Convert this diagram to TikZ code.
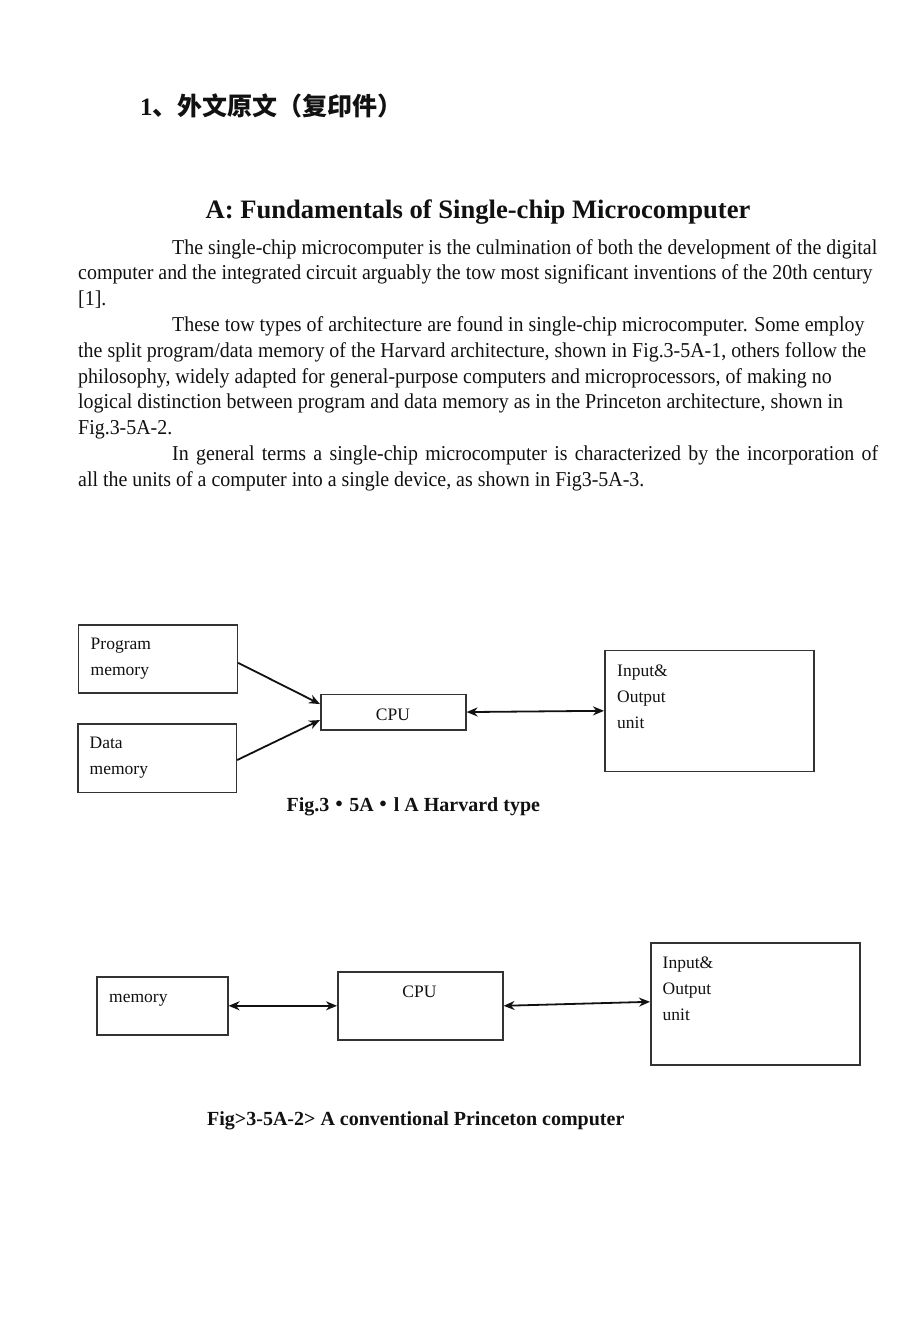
\documentclass[tikz,border=0pt]{standalone}
\usepackage{fontspec}
\setmainfont{Liberation Serif}
\newfontfamily\cjk{Noto Sans CJK SC}
\newfontfamily\narrowserif{Liberation Serif}[FakeStretch=0.94]
\usetikzlibrary{arrows.meta, positioning, calc}
\definecolor{ScanBlack}{HTML}{111111}
\definecolor{ScanGray}{HTML}{333333}
\tikzset{
    % Box styles
    unitbox/.style={
        rectangle,
        draw=ScanGray,
        line width=1.6pt,
        anchor=north west,
        inner sep=0pt
    },
    % multi-line text: placed at the baseline of its last line
    boxtext/.style={
        anchor=base west,
        align=left,
        inner sep=0pt,
        text=ScanBlack,
        font=\fontsize{17.5}{26}\selectfont
    },
    % Page text styles
    bodytext/.style={
        anchor=base west,
        inner sep=0pt,
        text=ScanBlack,
        font=\narrowserif\fontsize{21.2}{26}\selectfont
    },
    headtext/.style={
        anchor=base,
        inner sep=0pt,
        text=ScanBlack,
        font=\bfseries\fontsize{26.6}{30}\selectfont
    },
    captiontext/.style={
        anchor=base west,
        inner sep=0pt,
        text=ScanBlack,
        font=\bfseries\fontsize{20}{26}\selectfont
    },
    % Arrow styles
    onearrow/.style={
        -{Stealth[length=11pt,width=9pt]},
        line width=1.8pt,
        ScanBlack
    },
    twoarrow/.style={
        {Stealth[length=11pt,width=9pt]}-{Stealth[length=11pt,width=9pt]},
        line width=1.8pt,
        ScanBlack
    }
}

\begin{document}
\begin{tikzpicture}[x=1pt,y=-1pt]
    % Page
    \fill[white] (0,0) rectangle (920,1319);

    % Headings
    \node[anchor=base west, inner sep=0pt, text=ScanBlack, font=\bfseries\fontsize{25}{28}\selectfont] (part) at (140,116) {1{\cjk 、外文原文（复印件）}};
    \node[headtext] (title) at (478,218) {A: Fundamentals of Single-chip Microcomputer};

    % Body text
    \node[bodytext] (l1) at (172,254) {The single-chip microcomputer is the culmination of both the development of the digital};
    \node[bodytext] (l2) at (78,279.8) {computer and the integrated circuit arguably the tow most significant inventions of the 20th century};
    \node[bodytext] (l3) at (78,305.6) {[1].};
    \node[bodytext] (l4) at (172,331.4) {These tow types of architecture are found in single-chip microcomputer. Some employ};
    \node[bodytext] (l5) at (78,357.2) {the split program/data memory of the Harvard architecture, shown in Fig.3-5A-1, others follow the};
    \node[bodytext] (l6) at (78,383) {philosophy, widely adapted for general-purpose computers and microprocessors, of making no};
    \node[bodytext] (l7) at (78,408.8) {logical distinction between program and data memory as in the Princeton architecture, shown in};
    \node[bodytext] (l8) at (78,434.6) {Fig.3-5A-2.};
    \node[bodytext] (l9) at (172,460.4) {\hbox to 706pt{In general terms a single-chip microcomputer is characterized by the incorporation of}};
    \node[bodytext] (l10) at (78,486.2) {all the units of a computer into a single device, as shown in Fig3-5A-3.};

    % Harvard type
    \node[unitbox, minimum width=159pt, minimum height=68pt] (progmem) at (77.5,624) {};
    \node[unitbox, minimum width=158.5pt, minimum height=68.5pt] (datamem) at (77,723) {};
    \node[unitbox, minimum width=145pt, minimum height=35.5pt] (cpua) at (320,693.5) {};
    \node[unitbox, minimum width=209pt, minimum height=121pt] (ioa) at (604,649.5) {};
    \node[boxtext] (progtxt) at (90.5,675) {Program\\memory};
    \node[boxtext] (datatxt) at (89.5,774) {Data\\memory};
    \node[boxtext, anchor=base] (cpuatxt) at (393,720) {CPU};
    \node[boxtext] (ioatxt) at (617,728) {Input\&\\Output\\unit};
    \draw[onearrow] ($(progmem.east)+(0,4)$) -- ($(cpua.west)+(0,-8)$);
    \draw[onearrow] ($(datamem.east)+(0,2)$) -- ($(cpua.west)+(0,8)$);
    \draw[twoarrow] (cpua.east) -- (ioa.west);
    \node[captiontext] (capa) at (286.5,811) {Fig.3{\cjk ・}5A{\cjk ・}l A Harvard type};

    % Princeton type
    \node[unitbox, minimum width=131pt, minimum height=58pt] (memb) at (96,976) {};
    \node[unitbox, minimum width=165pt, minimum height=68pt] (cpub) at (337,971) {};
    \node[unitbox, minimum width=209pt, minimum height=122pt] (iob) at (650,942) {};
    \node[boxtext] (membtxt) at (109,1002) {memory};
    \node[boxtext, anchor=base] (cpubtxt) at (419.5,997) {CPU};
    \node[boxtext] (iobtxt) at (662.5,1020) {Input\&\\Output\\unit};
    \draw[twoarrow] (memb.east) -- (cpub.west);
    \draw[twoarrow] (cpub.east) -- ($(iob.west)+(0,-2)$);
    \node[captiontext] (capb) at (207,1125) {Fig>3-5A-2> A conventional Princeton computer};
\end{tikzpicture}
\end{document}
